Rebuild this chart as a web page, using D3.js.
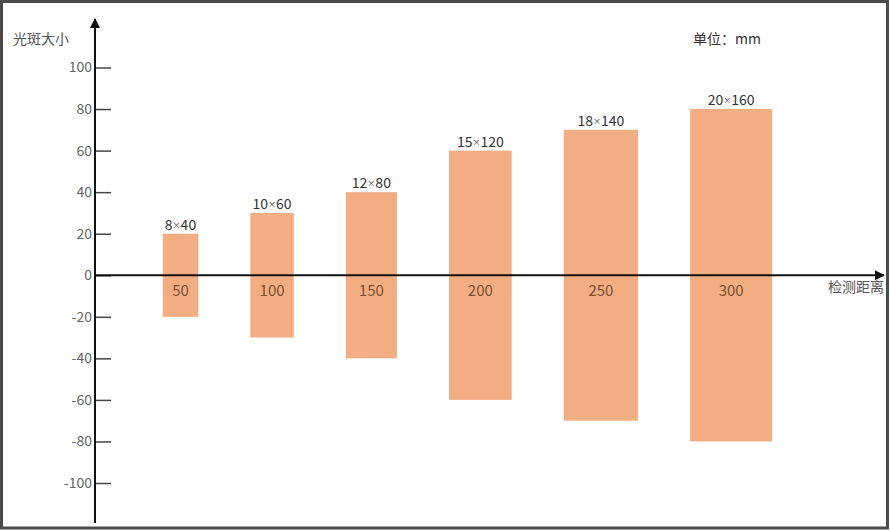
<!DOCTYPE html>
<html>
<head>
<meta charset="utf-8">
<script src="https://cdn.jsdelivr.net/npm/d3@7"></script>
<style>
    html, body { margin: 0; padding: 0; background: #fff; }
    svg { display: block; font-family: "Noto Sans CJK SC", "Noto Sans", sans-serif; }
</style>
</head>
<body>
<svg id="chart"></svg>
<script>
//*************************************************
// Data
//*************************************************
var distances = ['50', '100', '150', '200', '250', '300'];
var spotWidths = [8, 10, 12, 15, 18, 20];
var spotHeights = [40, 60, 80, 120, 140, 160];
var yTicks = [-100, -80, -60, -40, -20, 0, 20, 40, 60, 80, 100];

var yTitle = '光斑大小';
var xTitle = '检测距离';
var unitText = '单位：mm';


d3.spotChart = function (){

    //*************************************************
    // Public Variables loaded with default values
    //*************************************************
    var _width = 890;
    var _height = 531;
    var _barColor = '#f3ad82';

    //**********************************************************************************
    // Internal Variables
    //**********************************************************************************
    var __axisX = 95;
    var __gap = 52.1;
    var __firstOffset = 67.7;

    function chart(selection){
        selection.each(function (data){

            var svg = d3.select(this)
                .attr('width', _width)
                .attr('height', _height);

            var defs = svg.append('defs');
            defs.append('marker')
                .attr('id', 'arrow')
                .attr('viewBox', '0 0 10 10')
                .attr('refX', 9).attr('refY', 5)
                .attr('markerWidth', 5).attr('markerHeight', 5)
                .attr('orient', 'auto')
                .append('path')
                .attr('d', 'M0,0 L10,5 L0,10 Z')
                .attr('fill', '#111');

            // frame
            svg.append('rect')
                .attr('x', 1.5).attr('y', 1.5)
                .attr('width', _width - 4).attr('height', _height - 4.5)
                .attr('fill', '#fff')
                .attr('stroke', '#4a4a4a')
                .attr('stroke-width', 3);

            var y = d3.scaleLinear().domain([-100, 100]).range([483, 67.5]);
            var w = d3.scaleLinear().domain([8, 20]).range([35.6, 82]);

            //----------------------------------------------------------------------------------
            // bar left edges: bars sit one after another with a fixed gap
            //----------------------------------------------------------------------------------
            var lefts = [];
            var cursor = __axisX + __firstOffset;
            data.widths.forEach(function (d){
                lefts.push(cursor);
                cursor += w(d) + __gap;
            });

            var rows = data.names.map(function (name, i){
                return { name: name, width: data.widths[i], size: data.sizes[i], left: lefts[i] };
            });

            // bars
            svg.append('g').selectAll('rect')
                .data(rows)
                .enter().append('rect')
                .attr('x', function (d){ return d.left; })
                .attr('width', function (d){ return w(d.width); })
                .attr('y', function (d){ return y(d.size / 2); })
                .attr('height', function (d){ return y(-d.size / 2) - y(d.size / 2); })
                .attr('fill', _barColor);

            // labels above bars (small multiplication sign)
            var topLabels = svg.append('g').selectAll('text')
                .data(rows)
                .enter().append('text')
                .attr('x', function (d){ return d.left + w(d.width) / 2; })
                .attr('y', function (d){ return y(d.size / 2) - 4; })
                .attr('text-anchor', 'middle')
                .attr('font-size', 14)
                .attr('fill', '#333');
            topLabels.append('tspan').text(function (d){ return d.width; });
            topLabels.append('tspan').attr('font-size', 8).attr('dy', -2).text('×');
            topLabels.append('tspan').attr('dy', 2).text(function (d){ return d.size; });

            // category labels inside bars
            svg.append('g').selectAll('text')
                .data(rows)
                .enter().append('text')
                .attr('x', function (d){ return d.left + w(d.width) / 2; })
                .attr('y', y(0) + 21)
                .attr('text-anchor', 'middle')
                .attr('font-size', 15)
                .attr('fill', '#7a4f33')
                .text(function (d){ return d.name; });

            // y axis
            var yAxis = d3.axisLeft(y)
                .tickValues(data.ticks)
                .tickSize(-16)
                .tickPadding(3)
                .tickFormat(function (d){ return String(d); });

            var yAxisG = svg.append('g')
                .attr('transform', 'translate(' + __axisX + ',0)')
                .call(yAxis);
            yAxisG.select('.domain').remove();
            yAxisG.selectAll('.tick line').attr('stroke', '#444').attr('stroke-width', 1.5);
            yAxisG.selectAll('.tick text')
                .attr('font-family', '"Noto Sans CJK SC", sans-serif')
                .attr('font-size', 14)
                .attr('fill', '#666');

            svg.append('line')
                .attr('x1', __axisX).attr('x2', __axisX)
                .attr('y1', 523).attr('y2', 19)
                .attr('stroke', '#111').attr('stroke-width', 2)
                .attr('marker-end', 'url(#arrow)');

            // x axis
            svg.append('line')
                .attr('x1', __axisX).attr('x2', 884)
                .attr('y1', y(0)).attr('y2', y(0))
                .attr('stroke', '#111').attr('stroke-width', 2)
                .attr('marker-end', 'url(#arrow)');

            // titles
            svg.append('text')
                .attr('x', 13).attr('y', 44)
                .attr('font-size', 14).attr('fill', '#555')
                .text(yTitle);
            svg.append('text')
                .attr('x', 884).attr('y', 292)
                .attr('text-anchor', 'end')
                .attr('font-size', 14).attr('fill', '#555')
                .text(xTitle);
            svg.append('text')
                .attr('x', 693).attr('y', 44)
                .attr('font-size', 14).attr('fill', '#333')
                .text(unitText);

        });//selection.each()
    } //function chart

    //-------------------------------------------------
    // Getters and setters for public variables
    //-------------------------------------------------
    chart.width = function (value){
        if (!arguments.length){
            return _width;
        }
        _width = value;
        return chart;
    };
    chart.height = function (value){
        if (!arguments.length){
            return _height;
        }
        _height = value;
        return chart;
    };
    chart.barColor = function (value){
        if (!arguments.length){
            return _barColor;
        }
        _barColor = value;
        return chart;
    };

    return chart;
};

d3.select('#chart')
    .datum({ names: distances, widths: spotWidths, sizes: spotHeights, ticks: yTicks })
    .call(d3.spotChart());
</script>
</body>
</html>
